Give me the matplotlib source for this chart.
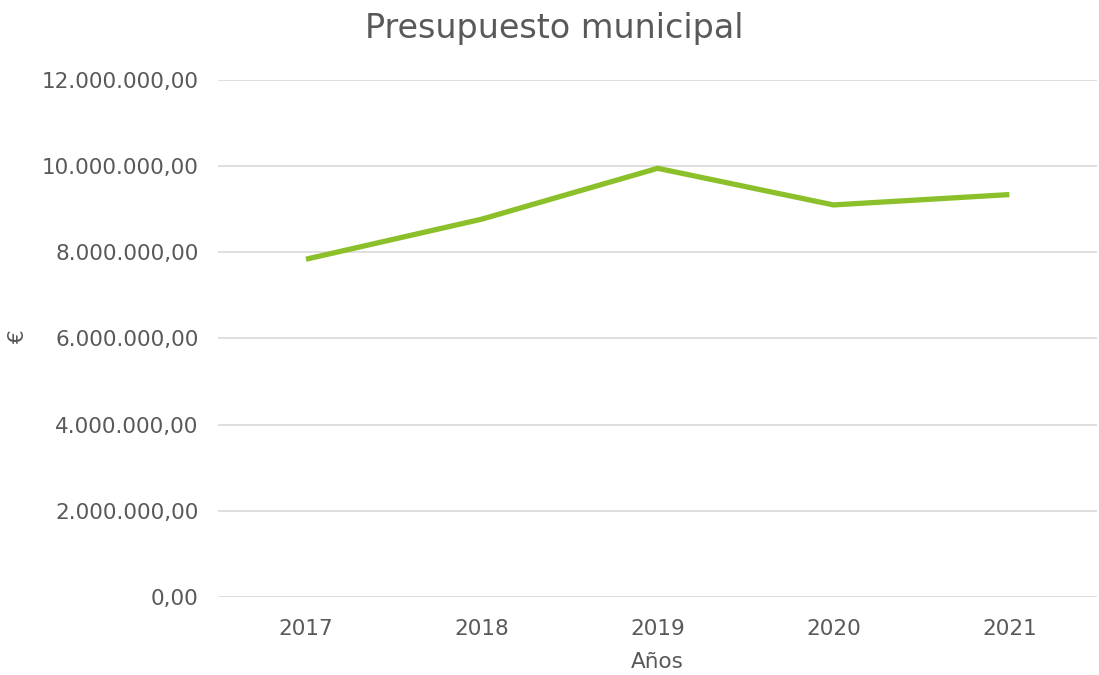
import matplotlib
matplotlib.use("Agg")
import matplotlib.pyplot as plt
from matplotlib.ticker import FuncFormatter

# datos
years = ["2017", "2018", "2019", "2020", "2021"]
budget = [7840000, 8770000, 9950000, 9100000, 9340000]

plt.rcParams['font.family'] = ['DejaVu Sans']
text_color = '#595959'


def euro_fmt(v, pos):
    s = f"{v:,.2f}"
    return s.replace(",", "X").replace(".", ",").replace("X", ".")


fig = plt.figure(figsize=(10.99, 6.75), dpi=100)
ax = fig.add_axes([0.1984, 0.1156, 0.8, 0.7659])

ax.plot(range(len(years)), budget, color='#8CC02A', linewidth=3.8,
        solid_capstyle='butt', solid_joinstyle='round')

ax.set_xlim(-0.5, len(years) - 0.5)
ax.set_ylim(0, 12000000)
ax.set_yticks(range(0, 12000001, 2000000))
ax.yaxis.set_major_formatter(FuncFormatter(euro_fmt))
ax.set_xticks(range(len(years)))
ax.set_xticklabels(years)

ax.grid(axis='y', color='#d9d9d9', linewidth=1.2)
ax.set_axisbelow(True)
for s in ax.spines.values():
    s.set_visible(False)
ax.tick_params(length=0, labelsize=15.5, colors=text_color)
ax.tick_params(axis='y', pad=14)
ax.tick_params(axis='x', pad=16)

fig.suptitle("Presupuesto municipal", fontsize=24, color=text_color,
             x=0.504, y=0.958, va='center')
ax.set_xlabel("Años", fontsize=15.5, color=text_color, labelpad=9)
fig.text(18 / 1099, 0.5, "€", rotation=90, fontsize=15.5, color=text_color,
         ha='center', va='center')

fig.savefig("out.png", dpi=100)
